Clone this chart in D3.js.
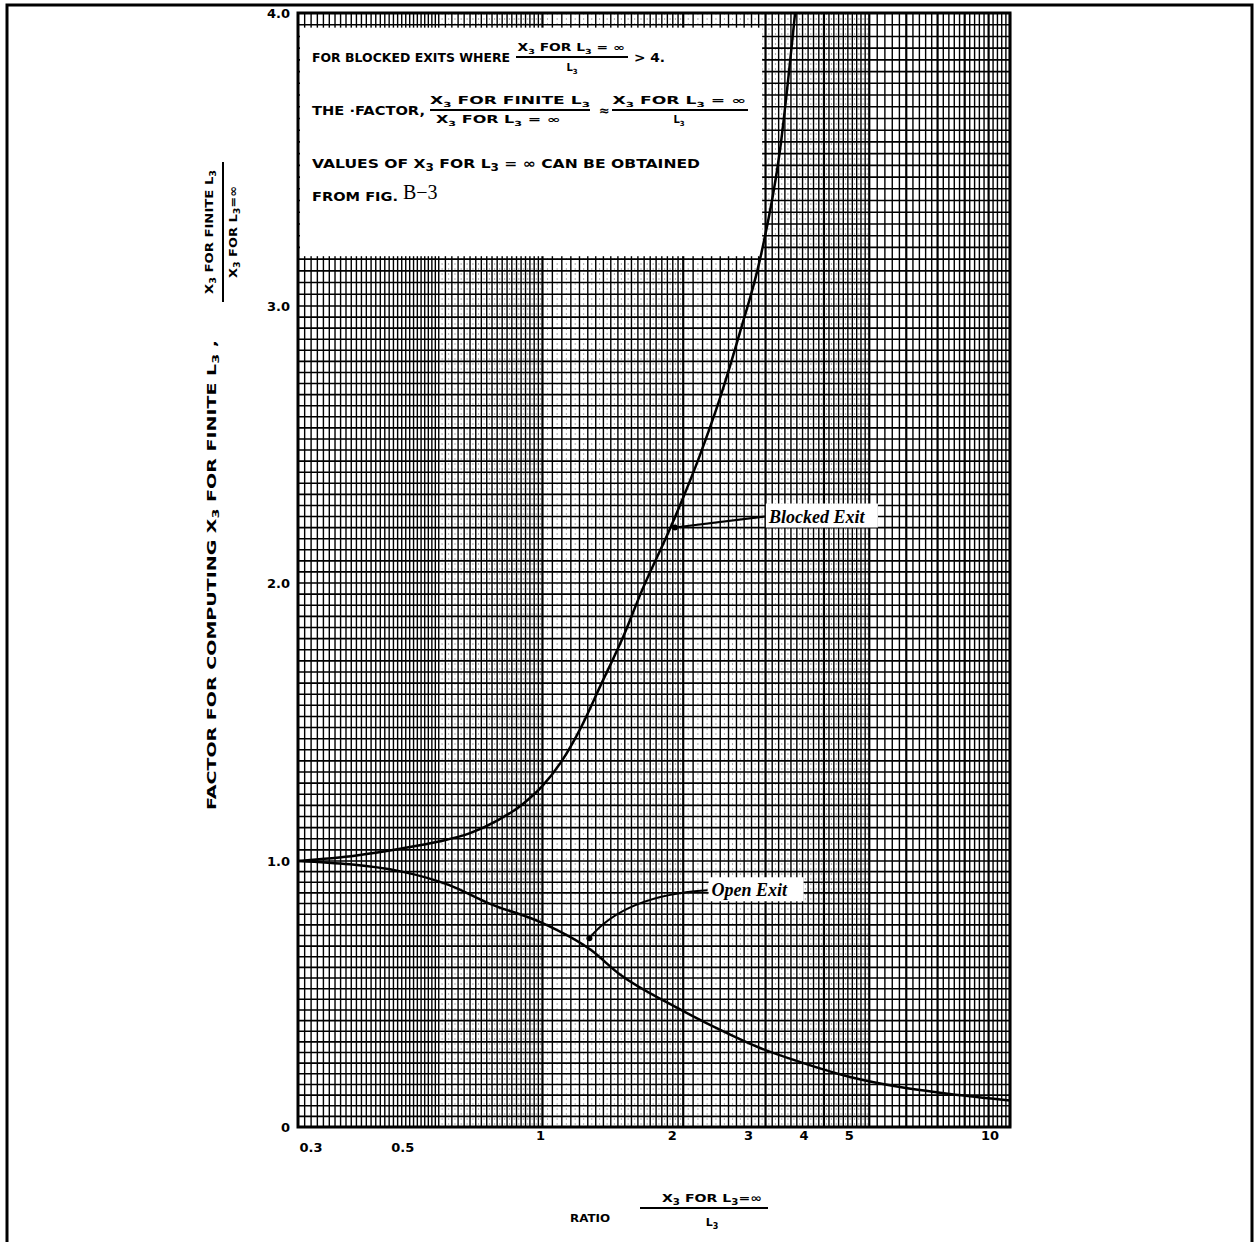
<!DOCTYPE html>
<html>
<head>
<meta charset="utf-8">
<script src="https://cdn.jsdelivr.net/npm/d3@7"></script>
<style>
  body { margin: 0; background: #fff; }
  svg { display: block; }
  .lab { font-family: "DejaVu Sans", sans-serif; font-weight: bold; fill: #000; }
  .tag { font-family: "Liberation Serif", serif; font-weight: bold; font-style: italic; fill: #000; }
</style>
</head>
<body>
<div id="chart"></div>
<script>
// axis ticks
var xTicks = [0.3, 0.5, 1, 2, 3, 4, 5, 10];
var xTickLabels = ["0.3", "0.5", "1", "2", "3", "4", "5", "10"];
var yTicks = [0, 1, 2, 3, 4];
var yTickLabels = ["0", "1.0", "2.0", "3.0", "4.0"];

// curves
var blockedX = [0.3, 0.4, 0.5, 0.6, 0.7, 0.8, 0.9, 1.0, 1.1, 1.2, 1.33, 1.5, 1.62, 1.89, 2.17, 2.40, 2.65, 2.92, 3.22, 3.47];
var blockedY = [1.0, 1.02, 1.045, 1.07, 1.10, 1.145, 1.20, 1.27, 1.36, 1.47, 1.63, 1.82, 1.96, 2.21, 2.46, 2.67, 2.91, 3.16, 3.53, 4.0];
var openX = [0.3, 0.5, 0.63, 0.77, 0.99, 1.27, 1.47, 1.89, 2.40, 2.92, 3.56, 4.55, 5.82, 7.44, 10];
var openY = [1.0, 0.96, 0.91, 0.84, 0.77, 0.665, 0.571, 0.459, 0.365, 0.297, 0.244, 0.188, 0.150, 0.124, 0.10];

var W = 1259, H = 1242;
var box = {left: 298, right: 1010, top: 13, bottom: 1127};

var svg = d3.select("#chart").append("svg")
	.attr("width", W)
	.attr("height", H);

var x = d3.scaleLog().domain([0.3, 10]).range([box.left, box.right]);
// the scanned sheet is slightly stretched, so the value axis is piecewise
var y = d3.scaleLinear().domain([0, 1, 2, 3, 4]).range([box.bottom, 861, 583, 306, box.top]);

// outer frame (open at the bottom)
svg.append("path")
	.attr("d", "M7," + H + " L7,5 L1252,5 L1252," + H)
	.attr("fill", "none")
	.attr("stroke", "#000")
	.attr("stroke-width", 3);

// grid
var g = svg.append("g");
var vLines = [], vFine = [];
function addRange(a, b, step, arr) {
	var n = Math.round((b - a) / step);
	for (var i = 0; i < n; i++) arr.push(+(a + i * step).toFixed(3));
}
addRange(0.3, 0.6, 0.01, vLines);
addRange(0.6, 1, 0.02, vLines);
addRange(0.61, 1, 0.02, vFine);
addRange(1, 2, 0.05, vLines);
addRange(1.025, 2, 0.05, vFine);
addRange(2, 5, 0.1, vLines);
addRange(2.05, 5, 0.1, vFine);
addRange(5, 10.001, 0.2, vLines);
vLines.push(10);

g.selectAll("line.f").data(vFine).enter().append("line")
	.attr("class", "f")
	.attr("x1", function(d) { return x(d); })
	.attr("x2", function(d) { return x(d); })
	.attr("y1", box.top).attr("y2", box.bottom)
	.attr("stroke", "#999")
	.attr("stroke-width", 0.8)
	.attr("stroke-dasharray", "2,3");

g.selectAll("line.v").data(vLines).enter().append("line")
	.attr("class", "v")
	.attr("x1", function(d) { return x(d); })
	.attr("x2", function(d) { return x(d); })
	.attr("y1", box.top).attr("y2", box.bottom)
	.attr("stroke", "#000")
	.attr("stroke-width", function(d) {
		var big = Math.abs(d - Math.round(d)) < 1e-6 && d >= 1;
		return big ? 2.2 : 1.4;
	});

var hLines = d3.range(0, 4.0001, 0.04);
g.selectAll("line.h").data(hLines).enter().append("line")
	.attr("class", "h")
	.attr("x1", box.left).attr("x2", box.right)
	.attr("y1", function(d) { return y(d); })
	.attr("y2", function(d) { return y(d); })
	.attr("stroke", "#000")
	.attr("stroke-width", 1.6);

// border of plot
svg.append("rect")
	.attr("x", box.left).attr("y", box.top)
	.attr("width", box.right - box.left).attr("height", box.bottom - box.top)
	.attr("fill", "none").attr("stroke", "#000").attr("stroke-width", 3);

// note box on top-left
var nb = {x0: 0.3, x1: 2.95, y0: 3.17, y1: 3.95};
svg.append("rect")
	.attr("x", x(nb.x0) + 2).attr("y", y(nb.y1))
	.attr("width", x(nb.x1) - x(nb.x0) - 2).attr("height", y(nb.y0) - y(nb.y1))
	.attr("fill", "#fff");

// curves
var line = d3.line()
	.x(function(d) { return x(d[0]); })
	.y(function(d) { return y(d[1]); })
	.curve(d3.curveMonotoneX);

svg.append("path")
	.datum(d3.zip(blockedX, blockedY))
	.attr("d", line)
	.attr("fill", "none").attr("stroke", "#000").attr("stroke-width", 2.5);
svg.append("path")
	.datum(d3.zip(openX, openY))
	.attr("d", line)
	.attr("fill", "none").attr("stroke", "#000").attr("stroke-width", 2.5);

// tick labels (hand lettered, sitting a little off their lines)
var xNudge = {"0.3": 13, "0.5": 1, "1": -2, "2": -11, "3": -17, "4": -20, "5": -20, "10": -20};
svg.selectAll("text.xt").data(xTicks).enter().append("text")
	.attr("class", "lab xt")
	.attr("x", function(d) { return x(d) + xNudge[String(d)]; })
	.attr("y", function(d) { return d < 1 ? 1152 : 1140; })
	.attr("text-anchor", "middle")
	.style("font-size", "13px")
	.text(function(d, i) { return xTickLabels[i]; });

svg.selectAll("text.yt").data(yTicks).enter().append("text")
	.attr("class", "lab yt")
	.attr("x", box.left - 8)
	.attr("y", function(d) { return y(d) + 5; })
	.attr("text-anchor", "end")
	.style("font-size", "13px")
	.text(function(d, i) { return yTickLabels[i]; });

// helper: text pieces, "3" is a subscript
function sub(sel, parts, size) {
	var down = false;
	parts.forEach(function(p) {
		if (p === "3") {
			sel.append("tspan").attr("dy", 3).style("font-size", (size - 3) + "px").text("3");
			down = true;
		} else {
			var ts = sel.append("tspan").text(p);
			if (down) { ts.attr("dy", -3); down = false; }
		}
	});
	return sel;
}

function txt(px, py, parts, size, anchor, len) {
	var t = svg.append("text").attr("class", "lab")
		.attr("x", px).attr("y", py)
		.attr("text-anchor", anchor || "start")
		.style("font-size", size + "px");
	if (len) t.attr("textLength", len).attr("lengthAdjust", "spacingAndGlyphs");
	return sub(t, parts, size);
}

function bar(x1, x2, yy) {
	svg.append("line").attr("x1", x1).attr("x2", x2).attr("y1", yy).attr("y2", yy)
		.attr("stroke", "#000").attr("stroke-width", 2);
}

// note text
txt(312, 62, ["FOR BLOCKED EXITS WHERE"], 13, "start", 198);
txt(571, 51, ["X", "3", " FOR L", "3", " = \u221e"], 10, "middle", 107);
bar(516, 628, 57);
txt(572, 71, ["L", "3"], 10, "middle");
txt(634, 62, ["> 4."], 13, "start", 31);

txt(312, 115, ["THE \u00b7FACTOR,"], 13, "start", 113);
txt(510, 104, ["X", "3", " FOR FINITE L", "3"], 10, "middle", 160);
bar(430, 590, 110);
txt(498, 123, ["X", "3", " FOR L", "3", " = \u221e"], 10, "middle", 124);
txt(599, 115, ["\u2248"], 13);
txt(679, 104, ["X", "3", " FOR L", "3", " = \u221e"], 10, "middle", 133);
bar(612, 748, 110);
txt(679, 123, ["L", "3"], 10, "middle");

txt(312, 168, ["VALUES OF X", "3", " FOR L", "3", " = \u221e CAN BE OBTAINED"], 13, "start", 388);
txt(312, 201, ["FROM FIG."], 13, "start", 86);
svg.append("text").attr("x", 403).attr("y", 199)
	.style("font-family", "Liberation Serif, serif").style("font-size", "20px")
	.text("B\u22123");

// x axis title
txt(590, 1222, ["RATIO"], 11, "middle", 40);
txt(712, 1202, ["X", "3", " FOR L", "3", "=\u221e"], 11, "middle", 100);
bar(640, 768, 1208);
txt(712, 1226, ["L", "3"], 11, "middle");

// y axis title (rotated)
var ya = svg.append("g").attr("transform", "translate(216,575) rotate(-90)");
var t1 = ya.append("text").attr("class", "lab").attr("x", 0).attr("y", 0)
	.attr("text-anchor", "middle").style("font-size", "12px")
	.attr("textLength", 470).attr("lengthAdjust", "spacingAndGlyphs");
sub(t1, ["FACTOR FOR COMPUTING X", "3", " FOR FINITE L", "3", " ,"], 12);
var yb = svg.append("g").attr("transform", "translate(216,232) rotate(-90)");
var t2 = yb.append("text").attr("class", "lab").attr("x", 0).attr("y", -3)
	.attr("text-anchor", "middle").style("font-size", "11px")
	.attr("textLength", 124).attr("lengthAdjust", "spacingAndGlyphs");
sub(t2, ["X", "3", " FOR FINITE L", "3"], 11);
yb.append("line").attr("x1", -70).attr("x2", 70).attr("y1", 7).attr("y2", 7)
	.attr("stroke", "#000").attr("stroke-width", 2);
var t3 = yb.append("text").attr("class", "lab").attr("x", 0).attr("y", 21)
	.attr("text-anchor", "middle").style("font-size", "11px")
	.attr("textLength", 92).attr("lengthAdjust", "spacingAndGlyphs");
sub(t3, ["X", "3", " FOR L", "3", "=\u221e"], 11);

// curve labels with leaders
var notes = [
	{text: "Blocked Exit", lx: 3.05, ly: 2.24, tx: 1.92, ty: 2.2, w: 112},
	{text: "Open Exit", lx: 2.3, ly: 0.89, tx: 1.26, ty: 0.71, w: 95}
];
notes.forEach(function(n, i) {
	var px = x(n.lx), py = y(n.ly);
	svg.append("rect").attr("x", px - 3).attr("y", py - 13)
		.attr("width", n.w).attr("height", 24).attr("fill", "#fff");
	svg.append("text").attr("class", "tag")
		.attr("x", px).attr("y", py + 6)
		.style("font-size", "18px")
		.text(n.text);
	var tx = x(n.tx), ty = y(n.ty);
	var d = i == 0
		? "M" + (px - 4) + "," + py + " L" + tx + "," + ty
		: "M" + (px - 4) + "," + py + " Q" + (tx + 35) + "," + (py + 5) + " " + tx + "," + ty;
	svg.append("path").attr("d", d).attr("fill", "none")
		.attr("stroke", "#000").attr("stroke-width", 2);
	svg.append("circle").attr("cx", tx).attr("cy", ty).attr("r", 3).attr("fill", "#000");
});
</script>
</body>
</html>
